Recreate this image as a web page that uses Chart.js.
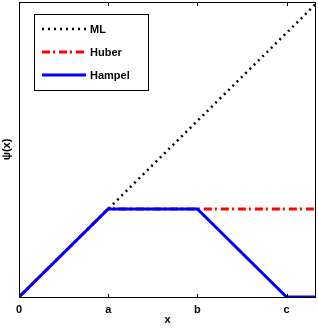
<!DOCTYPE html>
<html lang="en">
<head>
    <meta charset="UTF-8">
    <title>Psi functions</title>
    <style>
        html, body { margin: 0; padding: 0; background: #fff; }
        .chart { width: 318px; height: 328px; }
    </style>
</head>
<body>
    <div class="chart">
        <canvas id="psiChart"></canvas>
    </div>

    <script src="https://cdn.jsdelivr.net/npm/chart.js"></script>
    <script>
        const xMax = 3.33;
        const yMax = 3.35;

        const tickVals = [0, 1, 2, 3];
        const tickLabels = ['0', 'a', 'b', 'c'];

        const mlX = [0, 3.33];
        const mlY = [0, 3.33];
        const huberX = [0, 1, 3.33];
        const huberY = [0, 1, 1];
        const hampelX = [0, 1, 2, 3, 3.33];
        const hampelY = [0, 1, 1, 0, 0];

        const seriesNames = ['ML', 'Huber', 'Hampel'];

        const font = "'Liberation Sans', Arial, sans-serif";

        function toPoints(xs, ys) {
            return xs.map((x, i) => ({ x: x, y: ys[i] }));
        }

        // box, inward ticks and legend drawn on top
        const framePlugin = {
            id: 'frame',
            afterDatasetsDraw(chart) {
                const ctx = chart.ctx;
                const area = chart.chartArea;
                const xs = chart.scales.x;
                ctx.save();
                ctx.strokeStyle = '#000';
                ctx.lineWidth = 1;
                ctx.setLineDash([]);
                ctx.strokeRect(Math.round(area.left) + 0.5, Math.round(area.top) + 0.5,
                    Math.round(area.right - area.left) - 1, Math.round(area.bottom - area.top));
                tickVals.forEach(v => {
                    const px = Math.round(xs.getPixelForValue(v)) + 0.5;
                    ctx.beginPath();
                    ctx.moveTo(px, area.bottom);
                    ctx.lineTo(px, area.bottom - 3);
                    ctx.moveTo(px, area.top);
                    ctx.lineTo(px, area.top + 4);
                    ctx.stroke();
                });

                // legend
                const lx = 34, ly = 14, lw = 114, lh = 76;
                ctx.fillStyle = '#fff';
                ctx.fillRect(lx, ly, lw, lh);
                ctx.strokeRect(lx + 0.5, ly + 0.5, lw, lh);
                ctx.font = 'bold 11px ' + font;
                ctx.textBaseline = 'middle';
                ctx.textAlign = 'left';
                chart.data.datasets.forEach((ds, i) => {
                    const y = ly + 15 + i * 23;
                    ctx.strokeStyle = ds.borderColor;
                    ctx.lineWidth = ds.borderWidth;
                    ctx.lineCap = 'butt';
                    ctx.setLineDash(ds.borderDash || []);
                    ctx.beginPath();
                    ctx.moveTo(42, y);
                    ctx.lineTo(86, y);
                    ctx.stroke();
                    ctx.setLineDash([]);
                    ctx.fillStyle = '#000';
                    ctx.fillText(ds.label, 90, y + 1);
                });
                ctx.restore();
            }
        };

        const ctx = document.getElementById('psiChart');

        new Chart(ctx, {
            type: 'line',
            data: {
                datasets: [
                    {
                        label: seriesNames[0],
                        data: toPoints(mlX, mlY),
                        borderColor: '#000000',
                        borderWidth: 2.5,
                        borderDash: [2, 4],
                        order: 3
                    },
                    {
                        label: seriesNames[1],
                        data: toPoints(huberX, huberY),
                        borderColor: '#ff0000',
                        borderWidth: 3,
                        borderDash: [8, 3, 2, 4],
                        order: 2
                    },
                    {
                        label: seriesNames[2],
                        data: toPoints(hampelX, hampelY),
                        borderColor: '#0000ff',
                        borderWidth: 3,
                        order: 1
                    }
                ]
            },
            options: {
                responsive: true,
                maintainAspectRatio: false,
                animation: false,
                layout: { padding: { top: 2, right: 2, left: 0, bottom: 0 } },
                elements: {
                    point: { radius: 0 },
                    line: { tension: 0, borderCapStyle: 'butt', fill: false }
                },
                scales: {
                    x: {
                        type: 'linear',
                        min: 0,
                        max: xMax,
                        afterBuildTicks: (scale) => {
                            scale.ticks = tickVals.map(v => ({ value: v }));
                        },
                        afterFit: (scale) => { scale.height = 31; },
                        grid: { display: false, drawTicks: false },
                        border: { display: false },
                        ticks: {
                            padding: 6,
                            color: '#000',
                            maxRotation: 0,
                            font: { family: font, size: 11, weight: 'bold' },
                            callback: (v) => {
                                const i = tickVals.indexOf(v);
                                return i >= 0 ? tickLabels[i] : '';
                            }
                        },
                        title: {
                            display: true,
                            text: 'x',
                            color: '#000',
                            padding: { top: 0, bottom: 1 },
                            font: { family: font, size: 11, weight: 'bold' }
                        }
                    },
                    y: {
                        type: 'linear',
                        min: 0,
                        max: yMax,
                        afterFit: (scale) => { scale.width = 19; },
                        grid: { display: false, drawTicks: false },
                        border: { display: false },
                        ticks: { display: false },
                        title: {
                            display: true,
                            text: 'ψ(x)',
                            color: '#000',
                            padding: { top: 0, bottom: 0 },
                            font: { family: font, size: 11, weight: 'bold' }
                        }
                    }
                },
                plugins: {
                    legend: { display: false },
                    tooltip: { enabled: false }
                }
            },
            plugins: [framePlugin]
        });
    </script>
</body>
</html>
